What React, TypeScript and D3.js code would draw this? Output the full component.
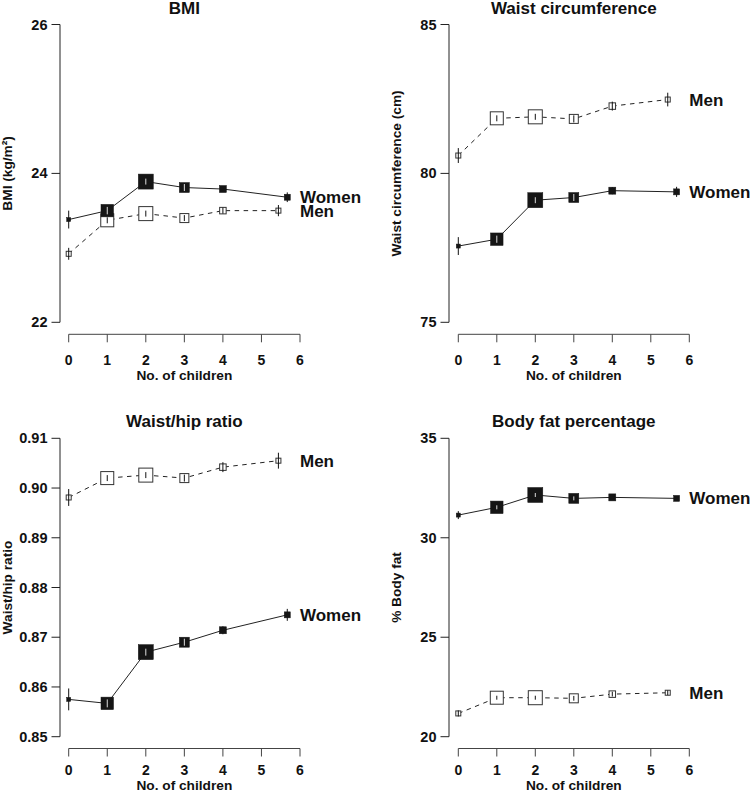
import React from "react";
import * as d3 from "d3";

const X_TICKS = [0, 1, 2, 3, 4, 5, 6];
const X_WOMEN = [0, 1, 2, 3, 4, 5.67];
const X_MEN = [0, 1, 2, 3, 4, 5.44];
const SIZE_WOMEN = [4, 12.5, 15, 10, 7, 6];
const SIZE_MEN = [5, 13, 14, 9, 6.5, 5];

const BMI_WOMEN = [23.38, 23.5, 23.89, 23.81, 23.79, 23.68];
const BMI_WOMEN_SE = [0.12, 0.05, 0.04, 0.05, 0.04, 0.065];
const BMI_MEN = [22.92, 23.37, 23.46, 23.4, 23.5, 23.5];
const BMI_MEN_SE = [0.08, 0.04, 0.04, 0.04, 0.04, 0.075];
const BMI_TICKS = [22, 24, 26];

const WAIST_WOMEN = [77.56, 77.79, 79.1, 79.19, 79.42, 79.38];
const WAIST_WOMEN_SE = [0.3, 0.12, 0.1, 0.12, 0.12, 0.17];
const WAIST_MEN = [80.6, 81.85, 81.9, 81.83, 82.26, 82.48];
const WAIST_MEN_SE = [0.25, 0.1, 0.1, 0.12, 0.15, 0.23];
const WAIST_TICKS = [75, 80, 85];

const WHR_WOMEN = [0.8575, 0.8567, 0.867, 0.869, 0.8714, 0.8745];
const WHR_WOMEN_SE = [0.0022, 0.0008, 0.0007, 0.0008, 0.0008, 0.0012];
const WHR_MEN = [0.8981, 0.902, 0.9026, 0.902, 0.9042, 0.9055];
const WHR_MEN_SE = [0.0017, 0.0006, 0.0006, 0.0007, 0.001, 0.0016];
const WHR_TICKS = [0.85, 0.86, 0.87, 0.88, 0.89, 0.9, 0.91];

const FAT_WOMEN = [31.14, 31.53, 32.15, 31.98, 32.03, 31.98];
const FAT_WOMEN_SE = [0.2, 0.1, 0.1, 0.1, 0.1, 0.12];
const FAT_MEN = [21.17, 21.96, 21.96, 21.93, 22.14, 22.21];
const FAT_MEN_SE = [0.15, 0.1, 0.1, 0.12, 0.12, 0.12];
const FAT_TICKS = [20, 25, 30, 35];

const FONT = "'Liberation Sans', Arial, Helvetica, sans-serif";

type PanelDef = {
  title: string;
  ylabel: string;
  ticks: number[];
  fmt: (v: number) => string;
  women: number[];
  womenSe: number[];
  men: number[];
  menSe: number[];
  col: number;
  row: number;
};

const COLS = [
  { axisX: 60, x0: 68.7, x6: 300 },
  { axisX: 449, x0: 458.3, x6: 689.3 },
];
const ROWS = [
  { top: 24.5, bottom: 322.3, xAxisY: 334.3, tickBase: 364.5, labelBase: 379.5 },
  { top: 438.3, bottom: 736.7, xAxisY: 748.5, tickBase: 774.5, labelBase: 789.5 },
];

const PANELS: PanelDef[] = [
  { title: "BMI", ylabel: "BMI (kg/m²)", ticks: BMI_TICKS, fmt: (v) => String(v), women: BMI_WOMEN, womenSe: BMI_WOMEN_SE, men: BMI_MEN, menSe: BMI_MEN_SE, col: 0, row: 0 },
  { title: "Waist circumference", ylabel: "Waist circumference (cm)", ticks: WAIST_TICKS, fmt: (v) => String(v), women: WAIST_WOMEN, womenSe: WAIST_WOMEN_SE, men: WAIST_MEN, menSe: WAIST_MEN_SE, col: 1, row: 0 },
  { title: "Waist/hip ratio", ylabel: "Waist/hip ratio", ticks: WHR_TICKS, fmt: (v) => v.toFixed(2), women: WHR_WOMEN, womenSe: WHR_WOMEN_SE, men: WHR_MEN, menSe: WHR_MEN_SE, col: 0, row: 1 },
  { title: "Body fat percentage", ylabel: "% Body fat", ticks: FAT_TICKS, fmt: (v) => String(v), women: FAT_WOMEN, womenSe: FAT_WOMEN_SE, men: FAT_MEN, menSe: FAT_MEN_SE, col: 1, row: 1 },
];

function Panel({ p }: { p: PanelDef }) {
  const c = COLS[p.col];
  const r = ROWS[p.row];
  const x = d3.scaleLinear().domain([0, 6]).range([c.x0, c.x6]);
  const y = d3
    .scaleLinear()
    .domain([p.ticks[0], p.ticks[p.ticks.length - 1]])
    .range([r.bottom, r.top]);
  const line = d3
    .line<[number, number]>()
    .x((d) => x(d[0]))
    .y((d) => y(d[1]));
  const wPts: [number, number][] = X_WOMEN.map((xx, i) => [xx, p.women[i]]);
  const mPts: [number, number][] = X_MEN.map((xx, i) => [xx, p.men[i]]);

  const last = X_WOMEN.length - 1;
  return (
    <g>
      <text
        x={(c.x0 + c.x6) / 2}
        y={r.top - 11}
        textAnchor="middle"
        fontFamily={FONT}
        fontWeight="bold"
        fontSize={17}
        fill="#111"
      >
        {p.title}
      </text>
      {/* y axis */}
      <line x1={c.axisX} x2={c.axisX} y1={r.top} y2={r.bottom} stroke="#222" strokeWidth={1} />
      {p.ticks.map((t) => (
        <g key={t}>
          <line x1={c.axisX - 8.5} x2={c.axisX} y1={y(t)} y2={y(t)} stroke="#222" strokeWidth={1} />
          <text
            x={c.axisX - 12.5}
            y={y(t) + 5}
            textAnchor="end"
            fontFamily={FONT}
            fontWeight="bold"
            fontSize={14.5}
            fill="#111"
          >
            {p.fmt(t)}
          </text>
        </g>
      ))}
      <text
        transform={`translate(${c.axisX - 48.5},${(r.top + r.bottom) / 2}) rotate(-90)`}
        textAnchor="middle"
        fontFamily={FONT}
        fontWeight="bold"
        fontSize={13.7}
        fill="#111"
      >
        {p.ylabel}
      </text>
      {/* x axis */}
      <line x1={x(0)} x2={x(6)} y1={r.xAxisY} y2={r.xAxisY} stroke="#444" strokeWidth={1} />
      {X_TICKS.map((t) => (
        <g key={t}>
          <line x1={x(t)} x2={x(t)} y1={r.xAxisY} y2={r.xAxisY + 8} stroke="#444" strokeWidth={1} />
          <text
            x={x(t)}
            y={r.tickBase}
            textAnchor="middle"
            fontFamily={FONT}
            fontWeight="bold"
            fontSize={14}
            fill="#111"
          >
            {t}
          </text>
        </g>
      ))}
      <text
        x={(c.x0 + c.x6) / 2}
        y={r.labelBase}
        textAnchor="middle"
        fontFamily={FONT}
        fontWeight="bold"
        fontSize={13.7}
        fill="#111"
      >
        No. of children
      </text>
      {/* lines */}
      <path d={line(mPts) || ""} fill="none" stroke="#222" strokeWidth={1} strokeDasharray="4.5,4.5" />
      <path d={line(wPts) || ""} fill="none" stroke="#222" strokeWidth={1} />
      {/* men markers */}
      {mPts.map((d, i) => {
        const cx = x(d[0]);
        const cy = y(d[1]);
        const s = SIZE_MEN[i];
        const se = p.menSe[i];
        return (
          <g key={"m" + i}>
            <rect x={cx - s / 2} y={cy - s / 2} width={s} height={s} fill="#fff" stroke="#333" strokeWidth={1} />
            <line x1={cx} x2={cx} y1={y(d[1] + se)} y2={y(d[1] - se)} stroke="#111" strokeWidth={1} />
          </g>
        );
      })}
      {/* women markers */}
      {wPts.map((d, i) => {
        const cx = x(d[0]);
        const cy = y(d[1]);
        const s = SIZE_WOMEN[i];
        const se = p.womenSe[i];
        const top = Math.max(y(d[1] + se), cy - s / 2 + 1.5);
        const bot = Math.min(y(d[1] - se), cy + s / 2 - 1.5);
        return (
          <g key={"w" + i}>
            <line x1={cx} x2={cx} y1={y(d[1] + se)} y2={y(d[1] - se)} stroke="#111" strokeWidth={1} />
            <rect x={cx - s / 2} y={cy - s / 2} width={s} height={s} fill="#151515" stroke="#151515" strokeWidth={0.5} />
            {s > 7 && bot > top ? (
              <line x1={cx} x2={cx} y1={top} y2={bot} stroke="#ddd" strokeWidth={1} />
            ) : null}
          </g>
        );
      })}
      {/* series labels */}
      <text
        x={c.x6}
        y={y(p.women[last]) + 6}
        fontFamily={FONT}
        fontWeight="bold"
        fontSize={17}
        fill="#111"
      >
        Women
      </text>
      <text
        x={c.x6}
        y={y(p.men[last]) + 6.5}
        fontFamily={FONT}
        fontWeight="bold"
        fontSize={17}
        fill="#111"
      >
        Men
      </text>
    </g>
  );
}

export default function App() {
  return (
    <svg
      width={750}
      height={791}
      viewBox="0 0 750 791"
      style={{ position: "absolute", left: 0, top: 0, background: "#fff" }}
    >
      <rect width={750} height={791} fill="#fff" />
      {PANELS.map((p) => (
        <Panel key={p.title} p={p} />
      ))}
    </svg>
  );
}
